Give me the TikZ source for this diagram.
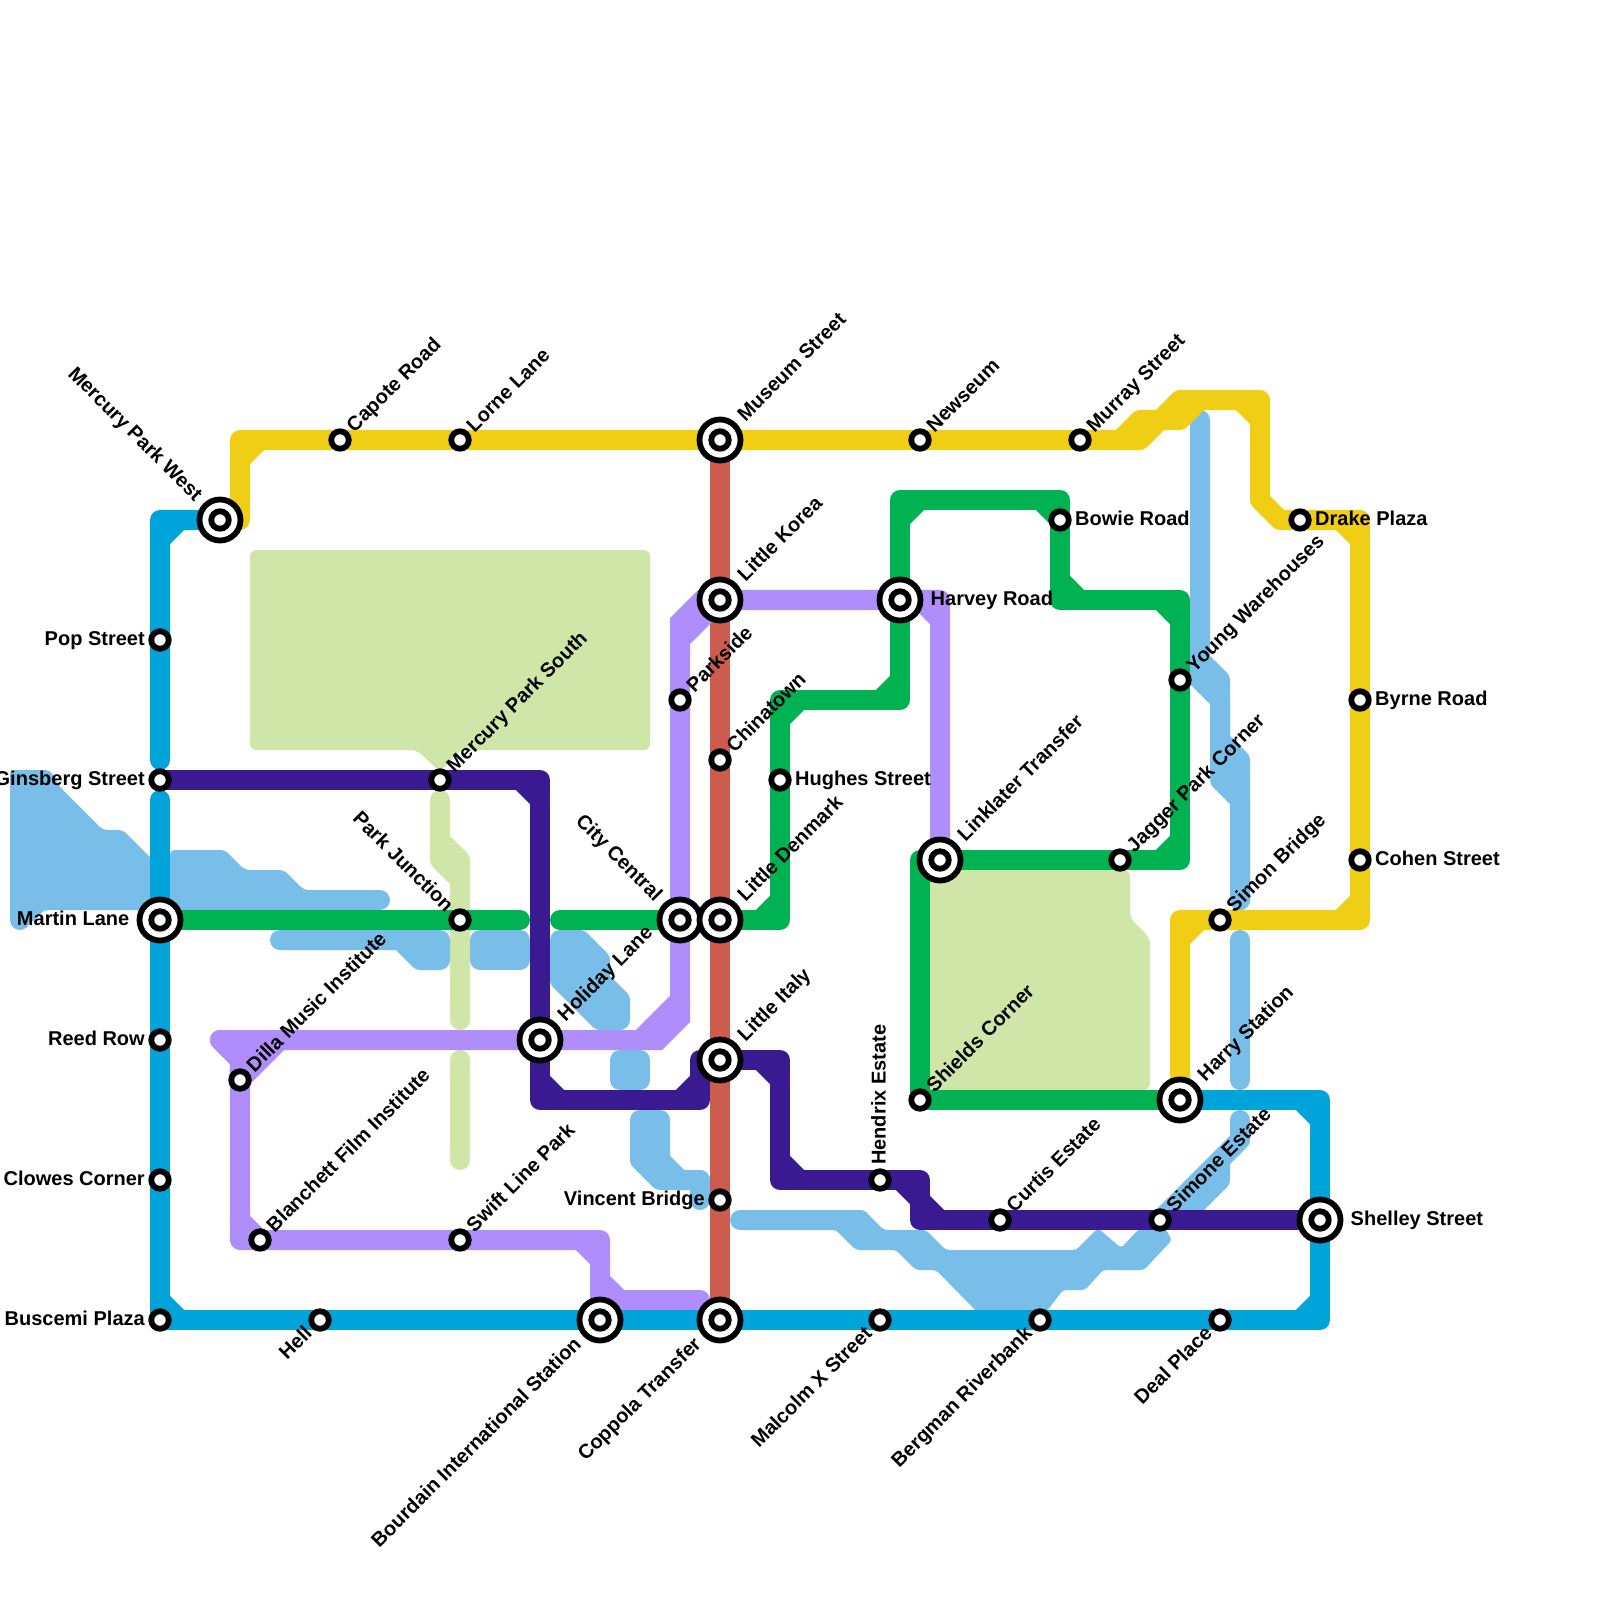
\documentclass[tikz,border=0pt]{standalone}
\usepackage{fontspec}
\setmainfont{Liberation Sans}
\definecolor{cityblue}{HTML}{00A4DB}
\definecolor{riverblue}{HTML}{79BDE9}
\definecolor{citygreen}{HTML}{00B251}
\definecolor{cityyellow}{HTML}{F0CE15}
\definecolor{citylilac}{HTML}{AF8DFA}
\definecolor{cityviolet}{HTML}{391A91}
\definecolor{cityred}{HTML}{CC5D4E}
\definecolor{parkgreen}{HTML}{D0E5A8}
\pgfdeclarelayer{map}
\pgfsetlayers{map,main}
\tikzset{
  route/.style={line width=0.2cm,line join=round,line cap=round},
  water/.style={route,draw=riverblue,fill=riverblue},
  stop/.style={circle,draw=black,fill=white,line width=0.058cm,minimum size=0.175cm,inner sep=0pt},
  hub/.style={circle,draw=black,fill=white,line width=0.058cm,minimum size=0.41cm,inner sep=0pt,
    path picture={\draw[line width=0.058cm] (path picture bounding box.center) circle (8.75);}},
  tag/.style={font=\fontsize{5.69}{7}\selectfont\bfseries,text=black,inner ysep=0pt,inner xsep=0.145cm,text height=0.15cm,text depth=0.04cm},
  tagne/.style={tag,rotate=45,anchor=west},
  tagnw/.style={tag,rotate=-45,anchor=east},
  tagsw/.style={tag,rotate=45,anchor=east},
  tagup/.style={tag,rotate=90,anchor=west},
  tage/.style={tag,anchor=west},
  tagw/.style={tag,anchor=east},
  far/.style={inner xsep=0.3cm}
}
\begin{document}
\begin{tikzpicture}[x=0.01cm,y=-0.01cm]
\useasboundingbox (0,0) rectangle (1600,1600);
% stations
\node[hub] (mercwest) at (220,520) {};
\node[stop] (capote) at (340,440) {};
\node[stop] (lorne) at (460,440) {};
\node[hub] (museum) at (720,440) {};
\node[stop] (newseum) at (920,440) {};
\node[stop] (murray) at (1080,440) {};
\node[stop] (bowie) at (1060,520) {};
\node[stop] (drake) at (1300,520) {};
\node[hub] (korea) at (720,600) {};
\node[hub] (harvey) at (900,600) {};
\node[stop] (popst) at (160,640) {};
\node[stop] (young) at (1180,680) {};
\node[stop] (parkside) at (680,700) {};
\node[stop] (byrne) at (1360,700) {};
\node[stop] (chinatown) at (720,760) {};
\node[stop] (ginsberg) at (160,780) {};
\node[stop] (mercsouth) at (440,780) {};
\node[stop] (hughes) at (780,780) {};
\node[hub] (linklater) at (940,860) {};
\node[stop] (jagger) at (1120,860) {};
\node[stop] (cohen) at (1360,860) {};
\node[hub] (martin) at (160,920) {};
\node[stop] (parkjunc) at (460,920) {};
\node[hub] (citycentral) at (680,920) {};
\node[hub] (denmark) at (720,920) {};
\node[stop] (simonbr) at (1220,920) {};
\node[stop] (reedrow) at (160,1040) {};
\node[hub] (holiday) at (540,1040) {};
\node[stop] (dilla) at (240,1080) {};
\node[hub] (italy) at (720,1060) {};
\node[stop] (shields) at (920,1100) {};
\node[hub] (harry) at (1180,1100) {};
\node[stop] (clowes) at (160,1180) {};
\node[stop] (hendrix) at (880,1180) {};
\node[stop] (vincent) at (720,1200) {};
\node[stop] (curtis) at (1000,1220) {};
\node[stop] (simone) at (1160,1220) {};
\node[hub] (shelley) at (1320,1220) {};
\node[stop] (blanchett) at (260,1240) {};
\node[stop] (swift) at (460,1240) {};
\node[stop] (buscemi) at (160,1320) {};
\node[stop] (hell) at (320,1320) {};
\node[hub] (bourdain) at (600,1320) {};
\node[hub] (coppola) at (720,1320) {};
\node[stop] (malcolm) at (880,1320) {};
\node[stop] (bergman) at (1040,1320) {};
\node[stop] (deal) at (1220,1320) {};
% names
\node[tagnw,far] (mercwestl) at (mercwest) {Mercury Park West};
\node[tagne] (capotel) at (capote) {Capote Road};
\node[tagne] (lornel) at (lorne) {Lorne Lane};
\node[tagne,far] (museuml) at (museum) {Museum Street};
\node[tagne] (newseuml) at (newseum) {Newseum};
\node[tagne] (murrayl) at (murray) {Murray Street};
\node[tage] (bowiel) at (bowie) {Bowie Road};
\node[tage] (drakel) at (drake) {Drake Plaza};
\node[tagne,far] (koreal) at (korea) {Little Korea};
\node[tage,far] (harveyl) at (harvey) {Harvey Road};
\node[tagw] (popstl) at (popst) {Pop Street};
\node[tagne] (youngl) at (young) {Young Warehouses};
\node[tagne] (parksidel) at (parkside) {Parkside};
\node[tage] (byrnel) at (byrne) {Byrne Road};
\node[tagne] (chinatownl) at (chinatown) {Chinatown};
\node[tagw] (ginsbergl) at (ginsberg) {Ginsberg Street};
\node[tagne] (mercsouthl) at (mercsouth) {Mercury Park South};
\node[tage] (hughesl) at (hughes) {Hughes Street};
\node[tagne,far] (linklaterl) at (linklater) {Linklater Transfer};
\node[tagne] (jaggerl) at (jagger) {Jagger Park Corner};
\node[tage] (cohenl) at (cohen) {Cohen Street};
\node[tagw,far] (martinl) at (martin) {Martin Lane};
\node[tagnw] (parkjuncl) at (parkjunc) {Park Junction};
\node[tagnw,far] (citycentrall) at (citycentral) {City Central};
\node[tagne,far] (denmarkl) at (denmark) {Little Denmark};
\node[tagne] (simonbrl) at (simonbr) {Simon Bridge};
\node[tagw] (reedrowl) at (reedrow) {Reed Row};
\node[tagne,far] (holidayl) at (holiday) {Holiday Lane};
\node[tagne] (dillal) at (dilla) {Dilla Music Institute};
\node[tagne,far] (italyl) at (italy) {Little Italy};
\node[tagne] (shieldsl) at (shields) {Shields Corner};
\node[tagne,far] (harryl) at (harry) {Harry Station};
\node[tagw] (clowesl) at (clowes) {Clowes Corner};
\node[tagup] (hendrixl) at (hendrix) {Hendrix Estate};
\node[tagw] (vincentl) at (vincent) {Vincent Bridge};
\node[tagne] (curtisl) at (curtis) {Curtis Estate};
\node[tagne] (simonel) at (simone) {Simone Estate};
\node[tage,far] (shelleyl) at (shelley) {Shelley Street};
\node[tagne] (blanchettl) at (blanchett) {Blanchett Film Institute};
\node[tagne] (swiftl) at (swift) {Swift Line Park};
\node[tagw] (buscemil) at (buscemi) {Buscemi Plaza};
\node[tagsw] (helll) at (hell) {Hell};
\node[tagsw,far] (bourdainl) at (bourdain) {Bourdain International Station};
\node[tagsw,far] (coppolal) at (coppola) {Coppola Transfer};
\node[tagsw] (malcolml) at (malcolm) {Malcolm X Street};
\node[tagsw] (bergmanl) at (bergman) {Bergman Riverbank};
\node[tagsw] (deall) at (deal) {Deal Place};
\begin{pgfonlayer}{map}
% parks
\fill[parkgreen,rounded corners=1.8pt] (250,550) -- (650,550) -- (650,750) -- (460,750) -- (440,772) -- (417,750) -- (250,750) -- cycle;
\fill[parkgreen,rounded corners=1.8pt] (920,870) -- (1130,870) -- (1130,918) -- (1150,938) -- (1150,1090) -- (920,1090) -- cycle;
\draw[route,parkgreen] (440,800) -- (440,840) -- (460,860) -- (parkjunc.center) -- (460,1020) (440,840) -- (440,860) -- (460,880);
\draw[route,parkgreen] (460,1060) -- (460,1160);
% river
\fill[riverblue,rounded corners=1.2pt] (10,770) -- (50,770) -- (60,787) -- (103,830) -- (123,830) -- (170,877) -- (170,850) -- (225,850) -- (245,870) -- (284,870) -- (304,890) -- (380,890) -- (380,910) -- (44,910) -- (30,924) -- (10,924) -- cycle;
\draw[route,riverblue] (300,900) -- (380,900) (20,900) -- (20,920) (180,860) -- (180,880);
\draw[route,riverblue] (280,940) -- (440,940) -- (440,960) -- (420,960) -- (400,940);
\draw[water] (480,940) -- (520,940) -- (520,960) -- (480,960) -- cycle;
\draw[water] (560,940) -- (580,940) -- (600,960) -- (600,980) -- (620,1000) -- (620,1020) -- (600,1020) -- (560,980) -- cycle;
\draw[water] (620,1060) -- (640,1060) -- (640,1080) -- (620,1080) -- cycle;
\draw[water] (640,1120) -- (660,1120) -- (660,1160) -- (680,1180) -- (700,1180) -- (660,1180) -- (640,1160) -- cycle;
\draw[route,riverblue] (700,1180) -- (700,1200);
\draw[route,riverblue] (740,1220) -- (860,1220);
\fill[riverblue,rounded corners=1pt] (740,1210) -- (864,1210) -- (884,1230) -- (926,1230) -- (946,1250) -- (1076,1250) -- (1098,1228) -- (1121,1248) -- (1138,1230) -- (1160,1220) -- (1172,1240) -- (1144,1270) -- (1103,1270) -- (1085,1290) -- (1063,1290) -- (1040,1320) -- (985,1320) -- (936,1270) -- (916,1270) -- (896,1250) -- (856,1250) -- (836,1230) -- (740,1230) -- cycle;
\draw[route,riverblue] (1240,1120) -- (1240,1140) -- (1160,1220) (1220,1160) -- (1220,1180) -- (1180,1220);
\draw[route,riverblue] (1200,420) -- (1200,660) -- (1220,680) -- (1220,740) -- (1240,760) -- (1240,900);
\draw[route,riverblue] (1180,660) -- (1220,700) -- (1220,780) -- (1240,800) -- (1240,900);
\draw[route,riverblue] (1240,940) -- (1240,1080);
% lines
\draw[route,cityred] (museum.center) -- (korea.center) -- (chinatown.center) -- (denmark.center) -- (italy.center) -- (vincent.center) -- (coppola.center);
\draw[route,citylilac] (korea.center) -- (harvey.center) -- (940,600) -- (linklater.center) (920,600) -- (940,620);
\fill[citylilac] (670,618) -- (698,590) -- (720,590) -- (720,610) -- (690,640) -- (670,640) -- cycle;
\fill[citylilac] (690,1000) -- (690,1022) -- (662,1050) -- (640,1050) -- (640,1030) -- (670,1000) -- cycle;
\draw[route,citylilac] (korea.center) -- (680,640) -- (parkside.center) -- (680,1000) -- (640,1040) -- (holiday.center) -- (280,1040) -- (220,1040) -- (240,1060) -- (dilla.center) -- (240,1240) -- (blanchett.center) -- (swift.center) -- (600,1240) -- (bourdain.center) (600,1280) -- (620,1300) -- (700,1300);
\draw[route,citylilac,fill=citylilac] (220,1040) -- (280,1040) -- (dilla.center) -- (240,1060) -- cycle;
\draw[route,citylilac] (240,1220) -- (260,1240) (580,1240) -- (600,1260);
\draw[route,cityyellow] (mercwest.center) -- (240,520) -- (240,440) -- (capote.center) -- (lorne.center) -- (museum.center) -- (newseum.center) -- (murray.center) -- (1120,440) -- (1140,420) -- (1160,420) -- (1180,400) -- (1260,400) -- (1260,500) -- (1280,520) -- (drake.center) -- (1360,520) -- (byrne.center) -- (cohen.center) -- (1360,920) -- (simonbr.center) -- (1180,920) -- (harry.center);
\draw[route,cityyellow] (1120,440) -- (1140,440) -- (1160,420) -- (1180,420) -- (1200,400);
\draw[route,cityyellow] (240,460) -- (260,440) (1240,400) -- (1260,420) (1340,520) -- (1360,540) (1360,900) -- (1340,920) (1200,920) -- (1180,940);
\draw[route,citygreen] (martin.center) -- (parkjunc.center) -- (520,920);
\draw[route,citygreen] (560,920) -- (citycentral.center) -- (denmark.center) -- (780,920) -- (hughes.center) -- (780,700) -- (900,700) -- (harvey.center) -- (900,500) -- (1060,500) -- (bowie.center) -- (1060,600) -- (1180,600) -- (young.center) -- (1180,860) -- (jagger.center) -- (linklater.center) -- (920,860) -- (shields.center) -- (harry.center);
\draw[route,citygreen] (760,920) -- (780,900) (780,720) -- (800,700) (880,700) -- (900,680) (900,520) -- (920,500) (1040,500) -- (1060,520) (1060,580) -- (1080,600) (1160,600) -- (1180,620) (1180,840) -- (1160,860);
\draw[route,cityviolet] (ginsberg.center) -- (mercsouth.center) -- (540,780) -- (holiday.center) -- (540,1100) -- (700,1100) -- (700,1060) -- (italy.center) -- (780,1060) -- (780,1180) -- (hendrix.center) -- (920,1180) -- (920,1220) -- (curtis.center) -- (simone.center) -- (shelley.center);
\draw[route,cityviolet] (520,780) -- (540,800) (540,1080) -- (560,1100) (680,1100) -- (700,1080) (760,1060) -- (780,1080) (780,1160) -- (800,1180) (900,1180) -- (920,1200) (920,1200) -- (940,1220);
\draw[route,cityblue] (mercwest.center) -- (160,520) -- (popst.center) -- (160,760) (160,540) -- (180,520);
\draw[route,cityblue] (160,800) -- (martin.center) -- (reedrow.center) -- (clowes.center) -- (buscemi.center) -- (hell.center) -- (bourdain.center) -- (coppola.center) -- (malcolm.center) -- (bergman.center) -- (deal.center) -- (1320,1320) -- (shelley.center) -- (1320,1100) -- (harry.center);
\draw[route,cityblue] (160,1300) -- (180,1320) (1300,1320) -- (1320,1300) (1320,1120) -- (1300,1100);
\end{pgfonlayer}
\end{tikzpicture}
\end{document}
